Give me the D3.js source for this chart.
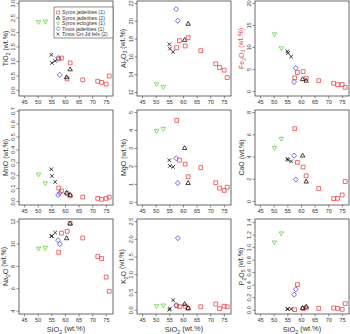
<!DOCTYPE html>
<html>
<head>
<meta charset="utf-8">
<script src="https://cdn.jsdelivr.net/npm/d3@7"></script>
<style>
  body { margin: 0; background: #fff; }
  svg text { font-family: "Liberation Sans", Arial, sans-serif; }
</style>
</head>
<body>
<div id="harker"></div>
<script>
// x axis for every panel
var xTicks = [45, 50, 55, 60, 65, 70, 75];

// series: SiO2 values
var sioSyrosJd1 = [57.7, 58.7, 60.8, 61.9, 66.5, 72.0, 73.4, 75.1, 76.2];
var sioSyrosJd2 = [60.6, 61.9];
var sioSyrosEcl = [50.3, 52.8];
var sioTinosJd = [57.5, 58.1];
var sioTinosFels = [55.0, 55.2, 56.4];

// oxides, one array per series (same order as above)
var syrosJd1 = {
    TiO2: [1.07, 1.1, 0.38, 0.93, 0.35, 0.3, 0.26, 0.2, 0.48],
    Al2O3: [16.98, 17.77, 17.17, 18.1, 16.64, 15.17, 14.75, 14.45, 13.62],
    Fe2O3: [3.0, 4.2, 4.4, 2.9, 2.35, 1.75, 1.45, 1.45, 0.84],
    MnO: [0.1, 0.078, 0.057, 0.04, 0.03, 0.02, 0.013, 0.02, 0.03],
    MgO: [4.53, 2.32, 2.1, 1.4, 1.91, 1.07, 0.77, 0.64, 0.82],
    CaO: [6.5, 3.47, 3.05, 2.27, 1.12, 0.21, 0.24, 0.54, 1.75],
    Na2O: [9.22, 10.93, 11.1, 11.8, 10.5, 8.84, 8.66, 7.0, 5.73],
    K2O: [0.11, 0.09, 0.1, 0.04, 0.085, 0.16, 0.03, 0.1, 0.085],
    P2O5: [0.0, 0.4, 0.016, 0.027, 0.02, 0.027, 0.02, 0.005, 0.096]
};
var syrosJd2 = {
    TiO2: [0.44, 0.71], Al2O3: [17.85, 19.66], Fe2O3: [2.7, 2.35],
    MnO: [0.065, 0.047], MgO: [3.0, 1.05], CaO: [4.08, 1.75],
    Na2O: [10.48, 11.8], K2O: [0.16, 0.05], P2O5: [0.027, 0.048]
};
var syrosEcl = {
    TiO2: [2.34, 2.36], Al2O3: [12.87, 12.57], Fe2O3: [12.9, 9.7],
    MnO: [0.205, 0.137], MgO: [3.95, 4.06], CaO: [4.77, 5.59],
    Na2O: [9.55, 9.61], K2O: [0.1, 0.12], P2O5: [1.075, 1.22]
};
var tinosJd = {
    TiO2: [1.1, 0.52], Al2O3: [21.3, 20.0], Fe2O3: [2.05, 5.2],
    MnO: [0.047, 0.062], MgO: [2.43, 1.05], CaO: [4.08, 1.93],
    Na2O: [10.3, 9.97], K2O: [0.13, 2.02], P2O5: [0.24, 0.325]
};
var tinosFels = {
    TiO2: [1.21, 0.93, 1.0], Al2O3: [17.36, 16.87, 16.5], Fe2O3: [9.0, 8.6, 7.8],
    MnO: [0.246, 0.194, 0.148], MgO: [2.32, 2.0, 1.95], CaO: [3.78, 3.69, 3.56],
    Na2O: [10.66, 10.68, 10.98], K2O: [0.0, 0.03, 0.27], P2O5: [0.01, 0.01, 0.01]
};

// panel order and their y ticks
var oxides = ["TiO2", "Al2O3", "Fe2O3", "MnO", "MgO", "CaO", "Na2O", "K2O", "P2O5"];
var yTicks = {
    TiO2: [0, 0.5, 1, 1.5, 2, 2.5, 3],
    Al2O3: [12, 14, 16, 18, 20, 22],
    Fe2O3: [0, 5, 10, 15, 20],
    MnO: [0, 0.1, 0.2, 0.3, 0.4, 0.5, 0.6, 0.7],
    MgO: [0, 1, 2, 3, 4, 5],
    CaO: [0, 2, 4, 6, 8],
    Na2O: [4, 6, 8, 10, 12],
    K2O: [0, 0.5, 1, 1.5, 2, 2.5],
    P2O5: [0, 0.2, 0.4, 0.6, 0.8, 1, 1.2, 1.4]
};
var yFormat = {
    TiO2: ".1f", Al2O3: "d", Fe2O3: "d", MnO: ".1f", MgO: "d",
    CaO: "d", Na2O: "d", K2O: ".1f", P2O5: ".1f"
};
var yLimits = {
    TiO2: [-0.21, 3.07], Al2O3: [11.55, 22.22], Fe2O3: [-1.14, 20.45],
    MnO: [-0.031, 0.705], MgO: [-0.17, 5.11], CaO: [-0.36, 8.18],
    Na2O: [3.7, 12.2], K2O: [-0.12, 2.56], P2O5: [-0.07, 1.45]
};
var xLimits = [43.15, 77.6];

var series = [
    {name: "Syros jadeitites (1)", sio: sioSyrosJd1, ox: syrosJd1, shape: "square", color: "#e8474a"},
    {name: "Syros jadeitites (2)", sio: sioSyrosJd2, ox: syrosJd2, shape: "triangle", color: "#111"},
    {name: "Syros eclogites (1)", sio: sioSyrosEcl, ox: syrosEcl, shape: "down", color: "#5fd83a"},
    {name: "Tinos jadeitites (1)", sio: sioTinosJd, ox: tinosJd, shape: "diamond", color: "#4a4ae0"},
    {name: "Tinos Grt-Jd fels (2)", sio: sioTinosFels, ox: tinosFels, shape: "cross", color: "#111"}
];

var width = 350, height = 334;
var colLeft = [19, 137, 255], rowTop = [1, 110, 219];
var pw = 94, ph = 95;

var svg = d3.select("#harker").append("svg")
    .attr("width", width)
    .attr("height", height);

function symbolPath(shape) {
    if (shape == "square") return "M-1.9,-1.9H1.9V1.9H-1.9Z";
    if (shape == "triangle") return "M0,-2.4L2.2,1.5H-2.2Z";
    if (shape == "down") return "M0,2.4L2.2,-1.5H-2.2Z";
    if (shape == "diamond") return "M0,-2.6L2.4,0L0,2.6L-2.4,0Z";
    return "M-1.8,-1.8L1.8,1.8M-1.8,1.8L1.8,-1.8";
}

// text with numeric subscripts, e.g. Al2O3
function chemLabel(sel, formula) {
    formula.split(/(\d)/).forEach(function(part, i) {
        if (part === "") return;
        if (i % 2 == 1) {
            sel.append("tspan").attr("font-size", "0.72em").attr("dy", "0.3em").text(part);
        } else {
            sel.append("tspan").attr("dy", i > 0 ? "-0.3em" : null).text(part);
        }
    });
}

oxides.forEach(function(ox, k) {
    var left = colLeft[k % 3], top = rowTop[Math.floor(k / 3)];
    var g = svg.append("g").attr("transform", "translate(" + left + "," + top + ")");

    var x = d3.scaleLinear().domain(xLimits).range([0, pw]);
    var y = d3.scaleLinear().domain(yLimits[ox]).range([ph, 0]);

    // X axis
    var xa = g.append("g")
        .attr("transform", "translate(0," + ph + ")")
        .call(d3.axisBottom(x).tickValues(xTicks).tickSize(2.5).tickPadding(1.5).tickSizeOuter(0));
    xa.select(".domain").remove();
    xa.selectAll("text").attr("font-size", 5.6).attr("fill", "#333");
    xa.selectAll("line").attr("stroke", "#444").attr("stroke-width", 0.6);

    // Y axis
    var ya = g.append("g")
        .call(d3.axisLeft(y).tickValues(yTicks[ox]).tickSize(2.5).tickFormat(d3.format(yFormat[ox])).tickSizeOuter(0));
    ya.select(".domain").remove();
    ya.selectAll("line").attr("stroke", "#444").attr("stroke-width", 0.6);
    ya.selectAll("text")
        .attr("font-size", 5.6).attr("fill", "#333")
        .attr("text-anchor", "middle")
        .attr("x", null).attr("dy", null)
        .attr("transform", "translate(-4.5,0) rotate(-90)");

    g.append("rect")
        .attr("width", pw).attr("height", ph)
        .attr("fill", "none").attr("stroke", "#444").attr("stroke-width", 0.8);

    var yt = g.append("text")
        .attr("transform", "translate(-10.8," + (ph / 2) + ") rotate(-90)")
        .attr("text-anchor", "middle")
        .attr("font-size", 7)
        .attr("fill", ox == "Fe2O3" ? "#e04848" : "#333");
    chemLabel(yt, ox);
    yt.append("tspan").attr("dy", ox == "MnO" || ox == "MgO" || ox == "CaO" ? null : "-0.3em").text(" (wt.%)");

    if (k >= 6) {
        var xt = g.append("text")
            .attr("x", pw / 2).attr("y", ph + 18)
            .attr("text-anchor", "middle")
            .attr("font-size", 7.4).attr("fill", "#333");
        chemLabel(xt, "SiO2");
        xt.append("tspan").attr("dy", "-0.3em").text(" (wt.%)");
    }

    series.forEach(function(s) {
        var pts = s.sio.map(function(v, i) { return [v, s.ox[ox][i]]; });
        g.selectAll(null).data(pts).enter().append("path")
            .attr("d", symbolPath(s.shape))
            .attr("transform", function(d) { return "translate(" + x(d[0]) + "," + y(d[1]) + ")"; })
            .attr("fill", "none")
            .attr("stroke", s.color)
            .attr("stroke-width", 0.8);
    });

    // legend only in the first panel
    if (k == 0) {
        var lg = g.append("g").attr("transform", "translate(35,6)");
        lg.append("rect").attr("width", 59).attr("height", 31)
            .attr("fill", "#fff").attr("stroke", "#444").attr("stroke-width", 0.6);
        series.forEach(function(s, i) {
            var row = lg.append("g").attr("transform", "translate(0," + (5.5 + i * 5.4) + ")");
            row.append("path").attr("d", symbolPath(s.shape))
                .attr("transform", "translate(4,0) scale(0.8)")
                .attr("fill", "none").attr("stroke", s.color).attr("stroke-width", 0.8);
            row.append("text").attr("x", 8).attr("y", 1.9)
                .attr("font-size", 5.2).attr("fill", "#333").text(s.name);
        });
    }
});
</script>
</body>
</html>
